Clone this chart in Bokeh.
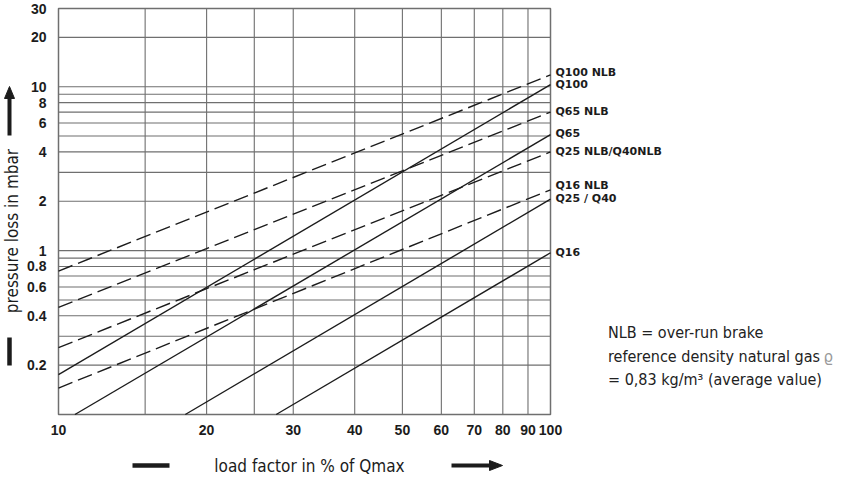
import math
from bokeh.plotting import figure
from bokeh.models import FixedTicker, Range1d
from bokeh.core.properties import value
from bokeh.embed import file_html
from bokeh.resources import INLINE

# ---------------- data ----------------
x_min, x_max = 10, 100          # load factor axis range (%)
y_min, y_max = 0.1, 30          # pressure loss axis range (mbar)
x_ticks = [10, 20, 30, 40, 50, 60, 70, 80, 90, 100]
x_tick_labels = ["10", "20", "30", "40", "50", "60", "70", "80", "90", "100"]
x_grid = [15, 20, 25, 30, 40, 50, 60, 70, 80, 90]
y_ticks = [0.2, 0.4, 0.6, 0.8, 1, 2, 4, 6, 8, 10, 20, 30]
y_tick_labels = ["0.2", "0.4", "0.6", "0.8", "1", "2", "4", "6", "8", "10", "20", "30"]
y_grid = [0.2, 0.3, 0.4, 0.5, 0.6, 0.7, 0.8, 0.9, 1, 2, 3, 4, 5, 6, 7, 8, 9, 10, 20]

# curves (load factor %, pressure loss mbar) - straight on log-log
q100_nlb_x = [10, 100]
q100_nlb_y = [0.75, 11.8]
q100_x = [10, 100]
q100_y = [0.175, 10.3]
q65_nlb_x = [10, 100]
q65_nlb_y = [0.45, 7.0]
q65_x = [10.8, 100]
q65_y = [0.1, 5.1]
q25_nlb_x = [10, 100]
q25_nlb_y = [0.256, 4.0]
q16_nlb_x = [10, 100]
q16_nlb_y = [0.145, 2.35]
q25_x = [18.1, 100]
q25_y = [0.1, 2.06]
q16_x = [27.7, 100]
q16_y = [0.1, 0.97]

curve_labels = ["Q100  NLB", "Q100", "Q65  NLB", "Q65", "Q25 NLB/Q40NLB",
                "Q16  NLB", "Q25 / Q40", "Q16"]
curve_label_x = [100, 100, 100, 100, 100, 100, 100, 100]
curve_label_y = [12.2, 10.3, 7.03, 5.17, 4.01, 2.51, 2.09, 0.97]

note_lines = ["NLB = over-run brake",
              "reference density natural gas",
              "= 0,83 kg/m\u00b3 (average value)"]
density_symbol = "\u03f1"
x_title = "load factor in % of Qmax"
y_title = "pressure loss in mbar"

# ---------------- layout (pixels inside the figure) ----------------
W, H = 838, 478
L, R, T, B = 58, 550, 8, 414          # chart box inside the canvas
PXD_X = (R - L) / (math.log10(x_max) - math.log10(x_min))
PXD_Y = (B - T) / (math.log10(y_max) - math.log10(y_min))


def X(px):
    return 10 ** (math.log10(x_min) + (px - L) / PXD_X)


def Y(py):
    return 10 ** (math.log10(y_min) + (B - py) / PXD_Y)


NARROW = "DejaVu Sans Condensed, Liberation Sans"
INK = "#1c1c1c"
GRID = "#6f6f6f"

p = figure(width=W, height=H, x_axis_type="log", y_axis_type="log",
           x_range=Range1d(X(0), X(W)), y_range=Range1d(Y(H), Y(0)),
           output_backend="svg", toolbar_location=None, min_border=0,
           min_border_left=0, min_border_right=0, min_border_top=0,
           min_border_bottom=0)
p.background_fill_color = "white"
p.border_fill_color = "white"
p.outline_line_color = None
p.grid.visible = False

# axes fixed on the chart box edges
p.xaxis.fixed_location = y_min
p.yaxis.fixed_location = x_min
p.xaxis.ticker = FixedTicker(ticks=x_ticks, minor_ticks=[])
p.xaxis.major_label_overrides = dict(zip(x_ticks, x_tick_labels))
p.yaxis.ticker = FixedTicker(ticks=y_ticks, minor_ticks=[])
p.yaxis.major_label_overrides = dict(zip(y_ticks, y_tick_labels))
for ax in (p.xaxis[0], p.yaxis[0]):
    ax.axis_line_color = None
    ax.major_tick_line_color = None
    ax.minor_tick_line_color = None
    ax.major_tick_in = 0
    ax.major_tick_out = 0
    ax.major_label_text_font = "Liberation Sans"
    ax.major_label_text_font_style = "bold"
    ax.major_label_text_font_size = "14px"
    ax.major_label_text_color = INK
p.xaxis.major_label_standoff = 10
p.yaxis.major_label_standoff = 12

# grid lines inside the chart box
p.segment(x0=x_grid, y0=[y_min] * len(x_grid), x1=x_grid, y1=[y_max] * len(x_grid),
          line_color=GRID, line_width=1.1)
p.segment(x0=[x_min] * len(y_grid), y0=y_grid, x1=[x_max] * len(y_grid), y1=y_grid,
          line_color=GRID, line_width=1.1)
p.quad(left=[x_min], right=[x_max], bottom=[y_min], top=[y_max],
       fill_color=None, line_color=GRID, line_width=1.5)

curves = [
    (q100_nlb_x, q100_nlb_y, True),
    (q100_x, q100_y, False),
    (q65_nlb_x, q65_nlb_y, True),
    (q65_x, q65_y, False),
    (q25_nlb_x, q25_nlb_y, True),
    (q16_nlb_x, q16_nlb_y, True),
    (q25_x, q25_y, False),
    (q16_x, q16_y, False),
]
for xs, ys, dashed in curves:
    p.line(xs, ys, line_color=INK, line_width=1.4,
           line_dash="15 6" if dashed else "solid")

# curve names at the right edge
p.text(x=curve_label_x, y=curve_label_y, text=curve_labels, x_offset=5,
       text_baseline="middle", text_align="left",
       text_font=value("DejaVu Sans"), text_font_style="bold",
       text_font_size="11px", text_color=INK)

# axis titles
p.text(x=[X(11)], y=[Y(230.5)], text=[y_title], angle=math.pi / 2,
       text_align="center", text_baseline="middle",
       text_font=value(NARROW), text_font_size="17px", text_color=INK)
p.text(x=[X(309)], y=[Y(465)], text=[x_title],
       text_align="center", text_baseline="middle",
       text_font=value(NARROW), text_font_size="17px", text_color=INK)

# arrows and bars next to the axis titles
p.segment(x0=[X(9)], y0=[Y(135)], x1=[X(9)], y1=[Y(97)],
          line_color=INK, line_width=4)
p.patch(x=[X(4), X(14), X(9)], y=[Y(98), Y(98), Y(86)],
        fill_color=INK, line_color=INK, line_width=1)
p.segment(x0=[X(9)], y0=[Y(337)], x1=[X(9)], y1=[Y(365)],
          line_color=INK, line_width=4.5)
p.segment(x0=[X(132)], y0=[Y(465)], x1=[X(169)], y1=[Y(465)],
          line_color=INK, line_width=4.5)
p.segment(x0=[X(451)], y0=[Y(465)], x1=[X(490)], y1=[Y(465)],
          line_color=INK, line_width=4)
p.patch(x=[X(489), X(489), X(502)], y=[Y(460), Y(470), Y(465)],
        fill_color=INK, line_color=INK, line_width=1)

# note
for i, t in enumerate(note_lines):
    p.text(x=[X(607.5)], y=[Y(332 + 23.7 * i)], text=[t],
           text_align="left", text_baseline="middle",
           text_font=value(NARROW), text_font_size="16px", text_color="#222222")
p.text(x=[X(823)], y=[Y(356)], text=[density_symbol],
       text_align="left", text_baseline="middle",
       text_font=value("DejaVu Sans"), text_font_size="15px", text_color="#9a9a9a")

open("out.html", "w").write(file_html(p, INLINE))
